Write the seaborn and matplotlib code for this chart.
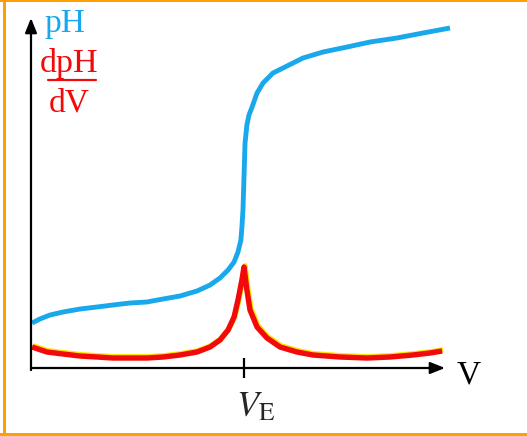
import matplotlib
matplotlib.use("Agg")
import matplotlib.pyplot as plt
import matplotlib.patheffects as pe
from matplotlib.patches import Rectangle
from matplotlib.lines import Line2D
import seaborn as sns

# ---- data ----
V_E = 10.29
V_ph = [0.05, 0.43, 0.92, 1.55, 2.37, 3.19, 3.96, 4.78, 5.60, 6.38, 7.20,
        8.02, 8.65, 9.13, 9.52, 9.81, 10.00, 10.14, 10.19, 10.24, 10.29,
        10.34, 10.43, 10.53, 10.68, 10.92, 11.21, 11.69, 12.37, 13.14,
        14.11, 15.27, 16.38, 17.68, 18.94, 20.24]
pH = [1.80, 1.96, 2.12, 2.24, 2.36, 2.44, 2.52, 2.60, 2.64, 2.76, 2.88,
      3.08, 3.32, 3.60, 3.92, 4.24, 4.64, 5.12, 5.64, 6.32, 7.64,
      9.00, 9.72, 10.12, 10.44, 11.00, 11.40, 11.80, 12.08, 12.40,
      12.64, 12.84, 13.04, 13.20, 13.40, 13.60]
V_d = [0.05, 0.77, 1.55, 2.37, 3.19, 3.96, 4.78, 5.60, 6.38, 7.20, 8.02,
       8.65, 9.13, 9.52, 9.81, 10.00, 10.19, 10.29, 10.43, 10.58, 10.92,
       11.40, 12.03, 12.85, 13.62, 14.93, 16.23, 17.34, 18.45, 19.28, 19.86]
dpH = [0.84, 0.64, 0.56, 0.48, 0.44, 0.40, 0.40, 0.40, 0.44, 0.52, 0.64,
       0.84, 1.12, 1.52, 2.04, 2.72, 3.52, 4.04, 3.12, 2.32, 1.64,
       1.20, 0.84, 0.64, 0.52, 0.44, 0.40, 0.44, 0.52, 0.60, 0.68]
x_tick_label = r"$V_{\mathrm{E}}$"

sns.set_style("white")
plt.rcParams["font.family"] = ["Liberation Serif", "DejaVu Serif"]
plt.rcParams["mathtext.fontset"] = "stix"

W, H = 527, 436
fig = plt.figure(figsize=(W / 100, H / 100), dpi=100)
fig.patch.set_facecolor("white")
ax = fig.add_axes([31 / W, (H - 368) / H, (445 - 31) / W, (368 - 18) / H])
ax.set_xlim(0, 20)
ax.set_ylim(0, 14)
for s in ax.spines.values():
    s.set_visible(False)
ax.set_facecolor("none")

BLUE = "#1AA8EC"
RED = "#F20A0A"

sns.lineplot(x=V_ph, y=pH, ax=ax, color=BLUE, lw=3.5, estimator=None,
             sort=False, clip_on=False, solid_capstyle="butt",
             solid_joinstyle="round")
sns.lineplot(x=V_d, y=dpH, ax=ax, color=RED, lw=3.9, estimator=None,
             sort=False, clip_on=False, solid_capstyle="butt",
             solid_joinstyle="round")
ax.lines[-1].set_path_effects([
    pe.Stroke(linewidth=3.9, foreground="#FFE600", offset=(0.7, 0.9)),
    pe.Normal()])

# axes arrows
arr = dict(arrowstyle="-|>,head_length=0.55,head_width=0.22", lw=1.6,
           color="black", shrinkA=0, shrinkB=0, mutation_scale=16)
ax.annotate("", xy=(0, 1), xytext=(0, -0.006), xycoords="axes fraction",
            textcoords="axes fraction", arrowprops=arr)
ax.annotate("", xy=(1, 0), xytext=(0, 0), xycoords="axes fraction",
            textcoords="axes fraction", arrowprops=arr)

# tick
ax.set_yticks([])
ax.set_xticks([V_E])
ax.set_xticklabels([""])
ax.tick_params(axis="x", direction="inout", length=14, width=1.6,
               color="black", bottom=True)
ax.annotate(x_tick_label, xy=(V_E, 0), xycoords=("data", "axes fraction"),
            xytext=(-8, -48), textcoords="offset pixels", ha="left",
            va="baseline", fontsize=26)

# labels
fig.text(44 / W, 1 - 32 / H, "pH", color=BLUE, fontsize=24,
         ha="left", va="baseline")
fig.text(40 / W, 1 - 72 / H, "dpH", color=RED, fontsize=24.5,
         ha="left", va="baseline")
fig.add_artist(Line2D([48 / W, 96 / W], [1 - 80 / H, 1 - 80 / H],
                      color=RED, lw=1.6, transform=fig.transFigure))
fig.text(49 / W, 1 - 112 / H, "dV", color=RED, fontsize=24,
         ha="left", va="baseline")
fig.text(457 / W, 1 - 383 / H, "V", color="black", fontsize=24,
         ha="left", va="baseline")

# orange frame
OR = "#FFA000"
fig.add_artist(Rectangle((0, 1 - 2 / H), 1, 2 / H, color=OR,
                         transform=fig.transFigure, lw=0))
fig.add_artist(Rectangle((3 / W, 0), 3 / W, 1, color=OR,
                         transform=fig.transFigure, lw=0))
fig.add_artist(Rectangle((0, 0), 1, 3 / H, color=OR,
                         transform=fig.transFigure, lw=0))

fig.savefig("out.png", dpi=100)
